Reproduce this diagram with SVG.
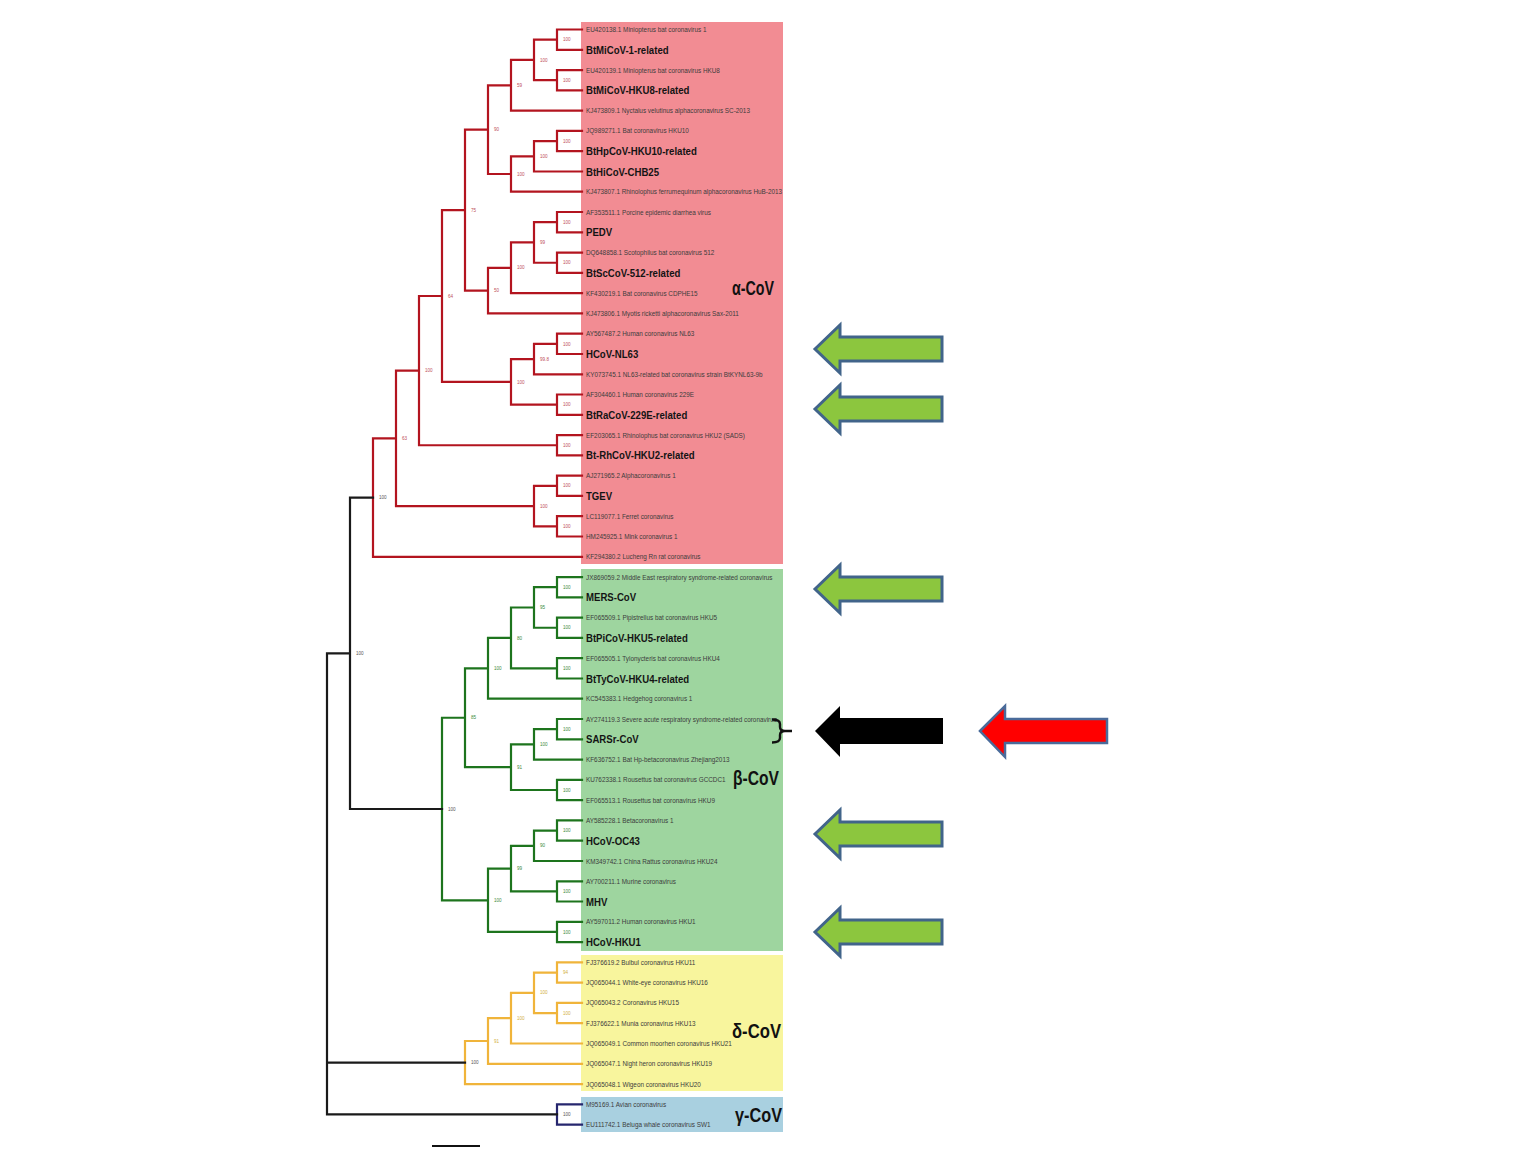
<svg xmlns="http://www.w3.org/2000/svg" width="1536" height="1152" viewBox="0 0 1536 1152">
<style>
text{font-family:"Liberation Sans","Arial",sans-serif}
.lab{font-size:7.2px;fill:#3c3c3c}
.bold{font-size:11.5px;font-weight:bold;fill:#141414}
.bs{font-size:4.6px}
.bsa{fill:#c0505a}.bsb{fill:#3d8a3d}.bsd{fill:#d2b044}.bsk{fill:#555}
.clade{font-size:21px;font-weight:bold;fill:#111}
.br{fill:none;stroke-width:2.2;stroke-linejoin:miter;stroke-linecap:square}
.ra{stroke:#b3141f}.gb{stroke:#1d741d}.yd{stroke:#f0b43a}.ng{stroke:#26266e}.kk{stroke:#1a1a1a}
.garrow{fill:#8cc63e;stroke:#41648a;stroke-width:3}
</style>
<defs>
<polygon id="garrowShape" points="0,0 25,-24 25,-12 127,-12 127,12 25,12 25,24"/>
</defs>
<rect width="1536" height="1152" fill="#ffffff"/>
<g id="clade-boxes">
<rect id="box-alpha" x="581" y="22" width="202" height="542" fill="#f28c93"/>
<rect id="box-beta" x="581" y="569" width="202" height="382" fill="#9ed59f"/>
<rect id="box-delta" x="581" y="955" width="202" height="136" fill="#f8f59d"/>
<rect id="box-gamma" x="581" y="1097" width="202" height="35" fill="#a9d0e0"/>
</g>
<g id="connectors">
<path class="br ra" d="M582 29.5H557V49.8H582M582 70.1H557V90.3H582M557 39.65H534V80.2H557M534 59.9H511V110.6H582M582 130.9H557V151.2H582M557 141.05H534V171.5H582M534 156.3H511V191.7H582M511 85.3H488V174H511M582 212H557V232.3H582M582 252.6H557V272.9H582M557 222.15H534V262.75H557M534 242.45H511V293.1H582M511 267.8H488V313.4H582M488 129.6H465V290.6H488M582 333.7H557V354H582M557 343.85H534V374.3H582M582 394.5H557V414.8H582M534 359.1H511V404.65H557M465 210.1H442V381.9H511M582 435.1H557V455.4H582M442 296H419V445.25H557M582 475.7H557V495.9H582M582 516.2H557V536.5H582M557 485.8H534V526.35H557M419 370.6H396V506.1H534M396 438.35H373V556.8H582"/>
<path class="br gb" d="M582 577.1H557V597.3H582M582 617.6H557V637.9H582M557 587.2H534V627.75H557M582 658.2H557V678.5H582M534 607.5H511V668.35H557M511 637.9H488V698.7H582M582 719H557V739.3H582M557 729.15H534V759.6H582M582 779.9H557V800.1H582M534 744.4H511V790H557M488 668.3H465V767.2H511M582 820.4H557V840.7H582M557 830.55H534V861H582M582 881.3H557V901.5H582M534 845.8H511V891.4H557M582 921.8H557V942.1H582M511 868.6H488V931.95H557M465 717.75H442V900.3H488"/>
<path class="br yd" d="M582 962.4H557V982.7H582M582 1002.9H557V1023.2H582M557 972.55H534V1013.05H557M534 992.8H511V1043.5H582M511 1018.15H488V1063.8H582M488 1041H465V1084.1H582"/>
<path class="br ng" d="M582 1104.3H557V1124.6H582"/>
<path class="br kk" d="M373 497.6H350V809H442M350 653.3H327V1114.45H557M327 1062.55H465"/>
</g>
<g id="support-values" class="bs">
<text class="bsa" x="563" y="41.3">100</text><text class="bsa" x="563" y="81.8">100</text><text class="bsa" x="540" y="61.5">100</text><text class="bsa" x="517" y="86.9">59</text>
<text class="bsa" x="563" y="142.7">100</text><text class="bsa" x="540" y="157.9">100</text><text class="bsa" x="517" y="175.6">100</text><text class="bsa" x="494" y="131.2">90</text>
<text class="bsa" x="563" y="223.8">100</text><text class="bsa" x="563" y="264.4">100</text><text class="bsa" x="540" y="244.1">99</text><text class="bsa" x="517" y="269.4">100</text>
<text class="bsa" x="494" y="292.2">50</text><text class="bsa" x="471" y="211.7">75</text><text class="bsa" x="563" y="345.5">100</text><text class="bsa" x="540" y="360.7">99.8</text>
<text class="bsa" x="563" y="406.3">100</text><text class="bsa" x="517" y="383.5">100</text><text class="bsa" x="448" y="297.6">64</text><text class="bsa" x="563" y="446.9">100</text>
<text class="bsa" x="425" y="372.2">100</text><text class="bsa" x="563" y="487.4">100</text><text class="bsa" x="563" y="528">100</text><text class="bsa" x="540" y="507.7">100</text>
<text class="bsa" x="402" y="440">63</text><text class="bsk" x="379" y="499.2">100</text><text class="bsk" x="356" y="654.9">100</text>
<text class="bsb" x="563" y="588.8">100</text><text class="bsb" x="563" y="629.4">100</text><text class="bsb" x="540" y="609.1">95</text><text class="bsb" x="563" y="670">100</text>
<text class="bsb" x="517" y="639.5">80</text><text class="bsb" x="494" y="669.9">100</text><text class="bsb" x="563" y="730.8">100</text><text class="bsb" x="540" y="746">100</text>
<text class="bsb" x="563" y="791.6">100</text><text class="bsb" x="517" y="768.8">91</text><text class="bsb" x="471" y="719.4">85</text><text class="bsb" x="563" y="832.2">100</text>
<text class="bsb" x="540" y="847.4">90</text><text class="bsb" x="563" y="893">100</text><text class="bsb" x="517" y="870.2">99</text><text class="bsb" x="563" y="933.6">100</text>
<text class="bsb" x="494" y="901.9">100</text><text class="bsk" x="448" y="810.6">100</text>
<text class="bsd" x="563" y="974.2">94</text><text class="bsd" x="563" y="1014.7">100</text><text class="bsd" x="540" y="994.4">100</text><text class="bsd" x="517" y="1019.8">100</text>
<text class="bsd" x="494" y="1042.6">91</text><text class="bsk" x="471" y="1064.2">100</text><text class="bsk" x="563" y="1116.1">100</text>
</g>
<g id="leaves">
<g id="leaf-01" transform="translate(586 32) scale(0.885 1)"><text class="lab">EU420138.1 Miniopterus bat coronavirus 1</text></g>
<g id="leaf-02" transform="translate(586 53.8) scale(0.835 1)"><text class="bold">BtMiCoV-1-related</text></g>
<g id="leaf-03" transform="translate(586 72.6) scale(0.885 1)"><text class="lab">EU420139.1 Miniopterus bat coronavirus HKU8</text></g>
<g id="leaf-04" transform="translate(586 94.3) scale(0.835 1)"><text class="bold">BtMiCoV-HKU8-related</text></g>
<g id="leaf-05" transform="translate(586 113.1) scale(0.885 1)"><text class="lab">KJ473809.1 Nyctalus velutinus alphacoronavirus SC-2013</text></g>
<g id="leaf-06" transform="translate(586 133.4) scale(0.885 1)"><text class="lab">JQ989271.1 Bat coronavirus HKU10</text></g>
<g id="leaf-07" transform="translate(586 155.2) scale(0.835 1)"><text class="bold">BtHpCoV-HKU10-related</text></g>
<g id="leaf-08" transform="translate(586 175.5) scale(0.835 1)"><text class="bold">BtHiCoV-CHB25</text></g>
<g id="leaf-09" transform="translate(586 194.2) scale(0.885 1)"><text class="lab">KJ473807.1 Rhinolophus ferrumequinum alphacoronavirus HuB-2013</text></g>
<g id="leaf-10" transform="translate(586 214.5) scale(0.885 1)"><text class="lab">AF353511.1 Porcine epidemic diarrhea virus</text></g>
<g id="leaf-11" transform="translate(586 236.3) scale(0.835 1)"><text class="bold">PEDV</text></g>
<g id="leaf-12" transform="translate(586 255.1) scale(0.885 1)"><text class="lab">DQ648858.1 Scotophilus bat coronavirus 512</text></g>
<g id="leaf-13" transform="translate(586 276.9) scale(0.835 1)"><text class="bold">BtScCoV-512-related</text></g>
<g id="leaf-14" transform="translate(586 295.6) scale(0.885 1)"><text class="lab">KF430219.1 Bat coronavirus CDPHE15</text></g>
<g id="leaf-15" transform="translate(586 315.9) scale(0.885 1)"><text class="lab">KJ473806.1 Myotis ricketti alphacoronavirus Sax-2011</text></g>
<g id="leaf-16" transform="translate(586 336.2) scale(0.885 1)"><text class="lab">AY567487.2 Human coronavirus NL63</text></g>
<g id="leaf-17" transform="translate(586 358) scale(0.835 1)"><text class="bold">HCoV-NL63</text></g>
<g id="leaf-18" transform="translate(586 376.8) scale(0.885 1)"><text class="lab">KY073745.1 NL63-related bat coronavirus strain BtKYNL63-9b</text></g>
<g id="leaf-19" transform="translate(586 397) scale(0.885 1)"><text class="lab">AF304460.1 Human coronavirus 229E</text></g>
<g id="leaf-20" transform="translate(586 418.8) scale(0.835 1)"><text class="bold">BtRaCoV-229E-related</text></g>
<g id="leaf-21" transform="translate(586 437.6) scale(0.885 1)"><text class="lab">EF203065.1 Rhinolophus bat coronavirus HKU2 (SADS)</text></g>
<g id="leaf-22" transform="translate(586 459.4) scale(0.835 1)"><text class="bold">Bt-RhCoV-HKU2-related</text></g>
<g id="leaf-23" transform="translate(586 478.2) scale(0.885 1)"><text class="lab">AJ271965.2 Alphacoronavirus 1</text></g>
<g id="leaf-24" transform="translate(586 499.9) scale(0.835 1)"><text class="bold">TGEV</text></g>
<g id="leaf-25" transform="translate(586 518.7) scale(0.885 1)"><text class="lab">LC119077.1 Ferret coronavirus</text></g>
<g id="leaf-26" transform="translate(586 539) scale(0.885 1)"><text class="lab">HM245925.1 Mink coronavirus 1</text></g>
<g id="leaf-27" transform="translate(586 559.3) scale(0.885 1)"><text class="lab">KF294380.2 Lucheng Rn rat coronavirus</text></g>
<g id="leaf-28" transform="translate(586 579.6) scale(0.885 1)"><text class="lab">JX869059.2 Middle East respiratory syndrome-related coronavirus</text></g>
<g id="leaf-29" transform="translate(586 601.3) scale(0.835 1)"><text class="bold">MERS-CoV</text></g>
<g id="leaf-30" transform="translate(586 620.1) scale(0.885 1)"><text class="lab">EF065509.1 Pipistrellus bat coronavirus HKU5</text></g>
<g id="leaf-31" transform="translate(586 641.9) scale(0.835 1)"><text class="bold">BtPiCoV-HKU5-related</text></g>
<g id="leaf-32" transform="translate(586 660.7) scale(0.885 1)"><text class="lab">EF065505.1 Tylonycteris bat coronavirus HKU4</text></g>
<g id="leaf-33" transform="translate(586 682.5) scale(0.835 1)"><text class="bold">BtTyCoV-HKU4-related</text></g>
<g id="leaf-34" transform="translate(586 701.2) scale(0.885 1)"><text class="lab">KC545383.1 Hedgehog coronavirus 1</text></g>
<g id="leaf-35" transform="translate(586 721.5) scale(0.885 1)"><text class="lab">AY274119.3 Severe acute respiratory syndrome-related coronavirus</text></g>
<g id="leaf-36" transform="translate(586 743.3) scale(0.835 1)"><text class="bold">SARSr-CoV</text></g>
<g id="leaf-37" transform="translate(586 762.1) scale(0.885 1)"><text class="lab">KF636752.1 Bat Hp-betacoronavirus Zhejiang2013</text></g>
<g id="leaf-38" transform="translate(586 782.4) scale(0.885 1)"><text class="lab">KU762338.1 Rousettus bat coronavirus GCCDC1</text></g>
<g id="leaf-39" transform="translate(586 802.6) scale(0.885 1)"><text class="lab">EF065513.1 Rousettus bat coronavirus HKU9</text></g>
<g id="leaf-40" transform="translate(586 822.9) scale(0.885 1)"><text class="lab">AY585228.1 Betacoronavirus 1</text></g>
<g id="leaf-41" transform="translate(586 844.7) scale(0.835 1)"><text class="bold">HCoV-OC43</text></g>
<g id="leaf-42" transform="translate(586 863.5) scale(0.885 1)"><text class="lab">KM349742.1 China Rattus coronavirus HKU24</text></g>
<g id="leaf-43" transform="translate(586 883.8) scale(0.885 1)"><text class="lab">AY700211.1 Murine coronavirus</text></g>
<g id="leaf-44" transform="translate(586 905.5) scale(0.835 1)"><text class="bold">MHV</text></g>
<g id="leaf-45" transform="translate(586 924.3) scale(0.885 1)"><text class="lab">AY597011.2 Human coronavirus HKU1</text></g>
<g id="leaf-46" transform="translate(586 946.1) scale(0.835 1)"><text class="bold">HCoV-HKU1</text></g>
<g id="leaf-47" transform="translate(586 964.9) scale(0.885 1)"><text class="lab">FJ376619.2 Bulbul coronavirus HKU11</text></g>
<g id="leaf-48" transform="translate(586 985.2) scale(0.885 1)"><text class="lab">JQ065044.1 White-eye coronavirus HKU16</text></g>
<g id="leaf-49" transform="translate(586 1005.4) scale(0.885 1)"><text class="lab">JQ065043.2 Coronavirus HKU15</text></g>
<g id="leaf-50" transform="translate(586 1025.7) scale(0.885 1)"><text class="lab">FJ376622.1 Munia coronavirus HKU13</text></g>
<g id="leaf-51" transform="translate(586 1046) scale(0.885 1)"><text class="lab">JQ065049.1 Common moorhen coronavirus HKU21</text></g>
<g id="leaf-52" transform="translate(586 1066.3) scale(0.885 1)"><text class="lab">JQ065047.1 Night heron coronavirus HKU19</text></g>
<g id="leaf-53" transform="translate(586 1086.6) scale(0.885 1)"><text class="lab">JQ065048.1 Wigeon coronavirus HKU20</text></g>
<g id="leaf-54" transform="translate(586 1106.8) scale(0.885 1)"><text class="lab">M95169.1 Avian coronavirus</text></g>
<g id="leaf-55" transform="translate(586 1127.1) scale(0.885 1)"><text class="lab">EU111742.1 Beluga whale coronavirus SW1</text></g>
</g>
<g id="clade-labels">
<text id="label-alpha" class="clade" x="732" y="295" textLength="42" lengthAdjust="spacingAndGlyphs">α-CoV</text>
<text id="label-beta" class="clade" x="733" y="785" textLength="46" lengthAdjust="spacingAndGlyphs">β-CoV</text>
<text id="label-delta" class="clade" x="732" y="1038" textLength="49" lengthAdjust="spacingAndGlyphs">δ-CoV</text>
<text id="label-gamma" class="clade" x="735" y="1122" textLength="47" lengthAdjust="spacingAndGlyphs">γ-CoV</text>
</g>
<g id="bracket"><path d="M772 719.5Q780 719.5 780 724V727Q780 731 785 731H792M785 731Q780 731 780 735V738Q780 742.5 772 742.5" fill="none" stroke="#111" stroke-width="2.4"/></g>
<g id="arrow-green-1"><use href="#garrowShape" class="garrow" x="815" y="349"/></g>
<g id="arrow-green-2"><use href="#garrowShape" class="garrow" x="815" y="409"/></g>
<g id="arrow-green-3"><use href="#garrowShape" class="garrow" x="815" y="589"/></g>
<g id="arrow-green-4"><use href="#garrowShape" class="garrow" x="815" y="834"/></g>
<g id="arrow-green-5"><use href="#garrowShape" class="garrow" x="815" y="932"/></g>
<g id="arrow-black"><polygon points="815,731 840,706 840,718 943,718 943,744 840,744 840,757" fill="#000"/></g>
<g id="arrow-red"><polygon points="980,731 1005,706 1005,719 1107,719 1107,743 1005,743 1005,757" fill="#ff0000" stroke="#4a6b9a" stroke-width="2.5"/></g>
<g id="scale-bar"><line x1="432" y1="1146" x2="480" y2="1146" stroke="#111" stroke-width="2"/></g>
</svg>
